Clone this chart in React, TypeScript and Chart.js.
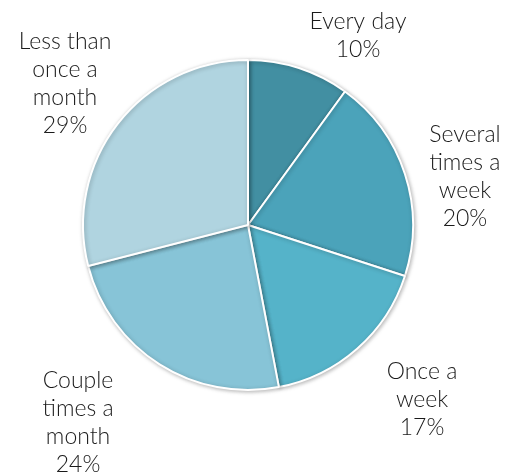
import React, { useEffect, useRef } from "react";
import { Chart, registerables } from "chart.js";

Chart.register(...registerables);

const categories = ["Every day", "Several times a week", "Once a week", "Couple times a month", "Less than once a month"];
const values = [10, 20, 17, 24, 29];
const labelLines = [
  ["Every day", "10%"],
  ["Several", "times a", "week", "20%"],
  ["Once a", "week", "17%"],
  ["Couple", "times a", "month", "24%"],
  ["Less than", "once a", "month", "29%"],
];
const colors = ["#428fa2", "#4ba3ba", "#55b3c9", "#87c4d7", "#b0d4e0"];
// label block centre offsets, in units of the pie radius from its centre
const labelOffsets = [
  [0.667, -1.145],
  [1.315, -0.291],
  [1.055, 1.06],
  [-1.03, 1.2],
  [-1.109, -0.855],
];

const shadowPlugin = {
  id: "pieShadow",
  beforeDatasetDraw(chart: any) {
    const ctx = chart.ctx;
    ctx.save();
    ctx.shadowColor = "rgba(0,0,0,0.28)";
    ctx.shadowBlur = 4;
    ctx.shadowOffsetX = 1;
    ctx.shadowOffsetY = 1;
  },
  afterDatasetDraw(chart: any) {
    chart.ctx.restore();
  },
};

const labelPlugin = {
  id: "outsideLabels",
  afterDraw(chart: any) {
    const meta = chart.getDatasetMeta(0);
    const arc0 = meta.data[0];
    if (!arc0) return;
    const cx = arc0.x;
    const cy = arc0.y;
    const r = arc0.outerRadius;
    const ctx = chart.ctx;
    ctx.save();
    ctx.fillStyle = "#1a1a1a";
    ctx.font = "300 23px Lato";
    ctx.textAlign = "center";
    ctx.textBaseline = "middle";
    const lh = 28;
    labelLines.forEach((lines, i) => {
      const x = cx + labelOffsets[i][0] * r;
      const y = cy + labelOffsets[i][1] * r;
      const top = y - ((lines.length - 1) * lh) / 2;
      lines.forEach((t, j) => ctx.fillText(t, x, top + j * lh));
    });
    ctx.restore();
  },
};

export default function App() {
  const ref = useRef<HTMLCanvasElement>(null);
  useEffect(() => {
    if (!ref.current) return;
    const chart = new Chart(ref.current, {
      type: "pie",
      data: {
        labels: categories,
        datasets: [
          {
            data: values,
            backgroundColor: colors,
            borderColor: "#ffffff",
            borderWidth: 2,
          },
        ],
      },
      options: {
        animation: false,
        responsive: false,
        layout: { padding: { left: 82, right: 107, top: 59, bottom: 83 } },
        plugins: {
          legend: { display: false },
          tooltip: { enabled: false },
        },
      },
      plugins: [shadowPlugin, labelPlugin],
    });
    return () => chart.destroy();
  }, []);
  return (
    <div style={{ position: "absolute", left: 0, top: 0, width: 521, height: 474, background: "#fff" }}>
      <canvas ref={ref} width={521} height={474} style={{ width: 521, height: 474 }} />
    </div>
  );
}
